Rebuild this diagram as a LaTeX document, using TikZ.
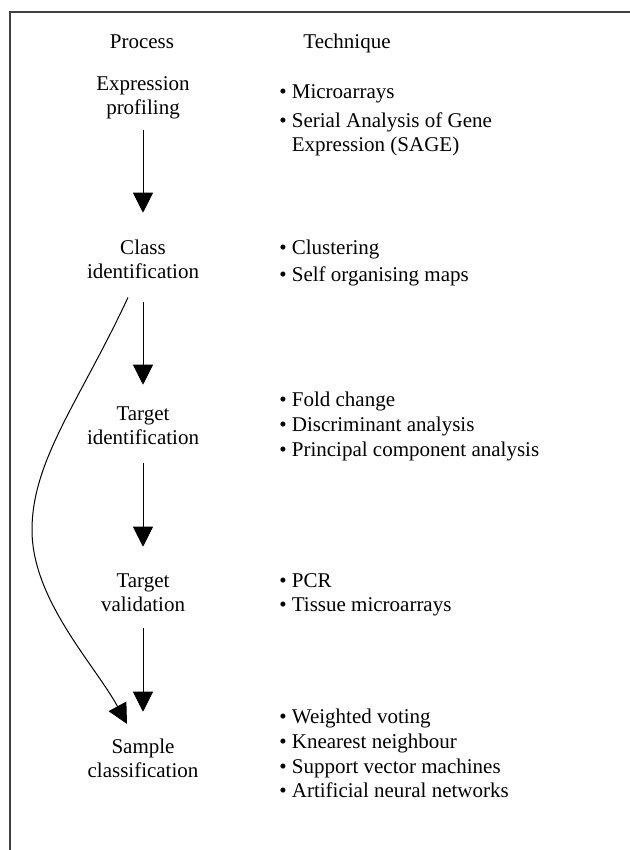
\documentclass[tikz,border=0pt]{standalone}
\usepackage{fontspec}
\setmainfont{Liberation Serif}
\usetikzlibrary{arrows.meta,calc}
\begin{document}
\begin{tikzpicture}[x=0.75pt,y=-0.75pt,
  txt/.style={inner sep=0pt, font=\fontsize{15.75pt}{18pt}\selectfont},
  proc/.style={txt, anchor=base},
  tech/.style={txt, anchor=base west},
  arr/.style={line width=0.75pt, -{Triangle[length=15pt,width=15pt]}},
  frame/.style={line width=1.5pt, draw=black!75}]
\useasboundingbox (0,0) rectangle (629,850);
\draw[frame] (9.5,851) -- (9.5,12) -- (630,12);

\node[proc] (hp) at (142,48) {Process};
\node[proc] (ht) at (347,48) {Technique};

\node[proc] (ep) at (143,90) {\begin{tabular}[t]{@{}c@{}}Expression\\profiling\end{tabular}};
\node[proc] (ci) at (143,254) {\begin{tabular}[t]{@{}c@{}}Class\\identification\end{tabular}};
\node[proc] (ti) at (143,420) {\begin{tabular}[t]{@{}c@{}}Target\\identification\end{tabular}};
\node[proc] (tv) at (143,587) {\begin{tabular}[t]{@{}c@{}}Target\\validation\end{tabular}};
\node[proc] (sc) at (143,753) {\begin{tabular}[t]{@{}c@{}}Sample\\classification\end{tabular}};

\node[tech] (t1) at (279,98) {\begin{tabular}[t]{@{}l@{\ }l@{}}\textbullet & Microarrays\\[3.75pt]
  \textbullet & Serial Analysis of Gene\\ & Expression (SAGE)\end{tabular}};
\node[tech] (t2) at (279,254) {\begin{tabular}[t]{@{}l@{\ }l@{}}\textbullet & Clustering\\[2.25pt]
  \textbullet & Self organising maps\end{tabular}};
\node[tech] (t3) at (279,406) {\begin{tabular}[t]{@{}l@{\ }l@{}}\textbullet & Fold change\\[0.75pt]
  \textbullet & Discriminant analysis\\[0.75pt]
  \textbullet & Principal component analysis\end{tabular}};
\node[tech] (t4) at (279,587) {\begin{tabular}[t]{@{}l@{\ }l@{}}\textbullet & PCR\\
  \textbullet & Tissue microarrays\end{tabular}};
\node[tech] (t5) at (279,723) {\begin{tabular}[t]{@{}l@{\ }l@{}}\textbullet & Weighted voting\\[0.75pt]
  \textbullet & Knearest neighbour\\[0.75pt]
  \textbullet & Support vector machines\\
  \textbullet & Artificial neural networks\end{tabular}};

\draw[arr, shorten <=6.6pt, shorten >=18.15pt] (ep.south) -- (ci.north);
\draw[arr, shorten <=12.6pt, shorten >=13.65pt] (ci.south) -- (ti.north);
\draw[arr, shorten <=8.85pt, shorten >=17.4pt] (ti.south) -- (tv.north);
\draw[arr, shorten <=7.35pt, shorten >=18.15pt] (tv.south) -- (sc.north);

\coordinate (bend) at (32,530);
\draw[arr] ($(ci.south)+(-15,12)$) .. controls +(-48,103) and +(0,-70) .. (bend)
  .. controls +(0,70) and +(-32,-59) .. ($(sc.north)+(-16,-12)$);
\end{tikzpicture}
\end{document}
